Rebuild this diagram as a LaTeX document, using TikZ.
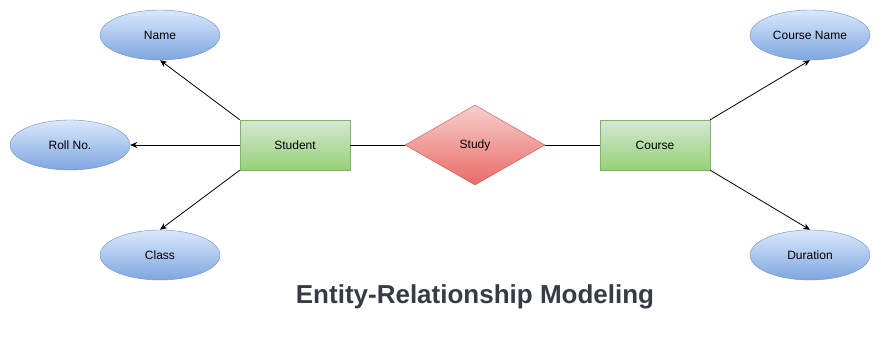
\documentclass[tikz,border=0pt]{standalone}
\usepackage{fontspec}
\setmainfont{Liberation Sans}
\usetikzlibrary{shapes.geometric,arrows.meta}
\definecolor{attrtop}{HTML}{DAE8FC}
\definecolor{attrbot}{HTML}{7EA6E0}
\definecolor{attrline}{HTML}{6C8EBF}
\definecolor{enttop}{HTML}{D5E8D4}
\definecolor{entbot}{HTML}{97D077}
\definecolor{entline}{HTML}{82B366}
\definecolor{reltop}{HTML}{F8CECC}
\definecolor{relbot}{HTML}{EA6B66}
\definecolor{relline}{HTML}{B85450}
\definecolor{titlecol}{HTML}{363B45}
\tikzset{
  attr/.style={ellipse, draw=attrline, top color=attrtop, bottom color=attrbot,
    minimum width=120pt, minimum height=50pt, inner sep=0pt, font=\fontsize{12}{14}\selectfont},
  entity/.style={rectangle, draw=entline, top color=enttop, bottom color=entbot,
    minimum width=110pt, minimum height=50pt, inner sep=0pt, font=\fontsize{12}{14}\selectfont},
  rel/.style={diamond, aspect=1.75, draw=relline, top color=reltop, bottom color=relbot,
    minimum width=140pt, minimum height=80pt, inner sep=0pt, font=\fontsize{12}{14}\selectfont},
  conn/.style={draw=black, line width=0.8pt},
  arr/.style={conn, -{Stealth[length=7pt,width=6pt]}},
}
\begin{document}
\begin{tikzpicture}[x=1pt,y=-1pt]
\useasboundingbox (0,0) rectangle (881,345);
\node[attr] (name) at (160,35) {Name};
\node[attr] (roll) at (70,145) {Roll No.};
\node[attr] (class) at (160,255) {Class};
\node[entity] (stu) at (295,145) {Student};
\node[rel] (study) at (475,145) {\raisebox{-1pt}{Study}};
\node[entity] (course) at (655,145) {Course};
\node[attr] (cname) at (810,35) {Course Name};
\node[attr] (dur) at (810,255) {Duration};
\node[font=\fontsize{26}{30}\selectfont\bfseries, text=titlecol] (title) at (475,297) {Entity-Relationship Modeling};
\draw[arr] (stu.north west) -- (name.south);
\draw[arr] (stu.west) -- (roll.east);
\draw[arr] (stu.south west) -- (class.north);
\draw[arr] (course.north east) -- (cname.south);
\draw[arr] (course.south east) -- (dur.north);
\draw[conn] (stu.east) -- (study.west);
\draw[conn] (study.east) -- (course.west);
\end{tikzpicture}
\end{document}
